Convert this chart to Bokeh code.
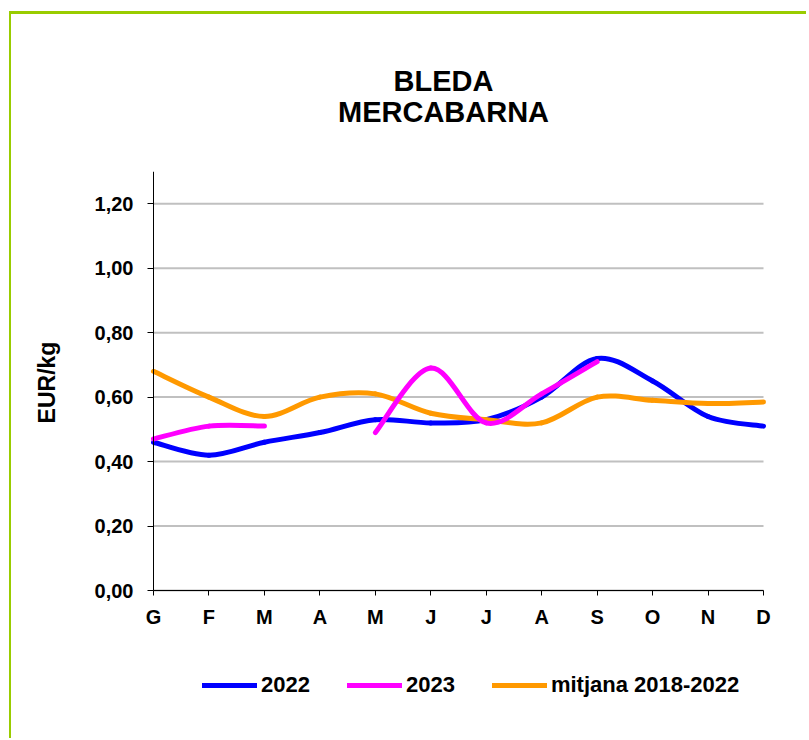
import math
from bokeh.plotting import figure
from bokeh.models import (ColumnDataSource, FixedTicker, Legend, LegendItem,
                          Title, Range1d, Label)
from bokeh.embed import file_html
from bokeh.resources import INLINE

# ---------------- data ----------------
months = ["G", "F", "M", "A", "M", "J", "J", "A", "S", "O", "N", "D"]
values_2022 = [0.46, 0.42, 0.46, 0.49, 0.53, 0.52, 0.53, 0.60, 0.72, 0.65, 0.54, 0.51]
values_2023 = [0.47, 0.51, 0.51, None, 0.49, 0.69, 0.52, 0.61, 0.71, None, None, None]
values_mitjana = [0.68, 0.60, 0.54, 0.60, 0.61, 0.55, 0.53, 0.52, 0.60, 0.59, 0.58, 0.585]
series_labels = ["2022", "2023", "mitjana 2018-2022"]
y_ticks = [0.0, 0.2, 0.4, 0.6, 0.8, 1.0, 1.2]
y_tick_labels = ["0,00", "0,20", "0,40", "0,60", "0,80", "1,00", "1,20"]
title_lines = ["BLEDA", "MERCABARNA"]
y_label = "EUR/kg"
y_max = 1.3

FONT = "Liberation Sans"
BLUE, MAGENTA, ORANGE = "#0000FF", "#FF00FF", "#FF9900"
GREEN = "#99CC00"
GRID = "#C0C0C0"
TITLE_SIZE = 29

# ---------------- geometry (px) ----------------
DATA_W, DATA_H = 610, 419          # axes box
PAD_L, PAD_R = 123, 38             # room inside the frame left/right of the axes box
PAD_B = 112                        # room inside the frame below the axes box (legend)
FRAME_W = PAD_L + DATA_W + PAD_R
FRAME_H = DATA_H + PAD_B
n_months = len(months)
ppx = DATA_W / (n_months - 1)      # px per month
ppy = DATA_H / y_max               # px per EUR
x_start, x_end = -PAD_L / ppx, (n_months - 1) + PAD_R / ppx
y_start = -PAD_B / ppy


def smooth_segments(ys, tension=1.0 / 6.0):
    """Bezier control points (Excel-like smoothed line) for each run of values."""
    xs = list(range(len(ys)))
    runs, cur = [], []
    for x, y in zip(xs, ys):
        if y is None:
            if cur:
                runs.append(cur)
                cur = []
        else:
            cur.append((x, y))
    if cur:
        runs.append(cur)
    d = dict(x0=[], y0=[], x1=[], y1=[], cx0=[], cy0=[], cx1=[], cy1=[])
    for run in runs:
        n = len(run)
        for i in range(n - 1):
            p0 = run[max(i - 1, 0)]
            p1 = run[i]
            p2 = run[i + 1]
            p3 = run[min(i + 2, n - 1)]
            d["x0"].append(p1[0]); d["y0"].append(p1[1])
            d["x1"].append(p2[0]); d["y1"].append(p2[1])
            d["cx0"].append(p1[0] + (p2[0] - p0[0]) * tension)
            d["cy0"].append(p1[1] + (p2[1] - p0[1]) * tension)
            d["cx1"].append(p2[0] - (p3[0] - p1[0]) * tension)
            d["cy1"].append(p2[1] - (p3[1] - p1[1]) * tension)
    return ColumnDataSource(d)


p = figure(frame_width=FRAME_W, frame_height=FRAME_H,
           min_border_left=19, min_border_right=5,
           min_border_top=157, min_border_bottom=36,
           x_range=Range1d(x_start, x_end), y_range=Range1d(y_start, y_max),
           output_backend="svg", toolbar_location=None)
p.styles = {"margin-left": "9px", "margin-top": "11px",
            "border-left": f"2px solid {GREEN}",
            "border-top": f"3px solid {GREEN}"}
p.outline_line_color = None
p.background_fill_color = "white"
p.border_fill_color = "white"
p.xgrid.visible = False
p.ygrid.visible = False

# horizontal grid lines, only across the axes box
p.segment(x0=[0] * len(y_ticks), x1=[n_months - 1] * len(y_ticks),
          y0=y_ticks, y1=y_ticks, line_color=GRID, line_width=2)

# axes
xa = p.xaxis[0]
xa.fixed_location = 0
xa.bounds = (0, n_months - 1)
xa.ticker = FixedTicker(ticks=list(range(n_months)))
xa.major_label_overrides = {i: m for i, m in enumerate(months)}
xa.major_label_text_font = FONT
xa.major_label_text_font_style = "bold"
xa.major_label_text_font_size = "20px"
xa.major_label_text_color = "black"
xa.major_label_standoff = 10
xa.major_tick_in = 0
xa.major_tick_out = 5
xa.minor_tick_line_color = None
xa.axis_line_color = "black"

ya = p.yaxis[0]
ya.fixed_location = 0
ya.bounds = (0, y_max)
ya.ticker = FixedTicker(ticks=y_ticks)
ya.major_label_overrides = dict(zip(y_ticks, y_tick_labels))
ya.major_label_text_font = FONT
ya.major_label_text_font_style = "bold"
ya.major_label_text_font_size = "20px"
ya.major_label_text_color = "black"
ya.major_label_standoff = 14
ya.major_tick_in = 0
ya.major_tick_out = 6
ya.minor_tick_line_color = None
ya.axis_line_color = "black"

# y axis title
p.add_layout(Label(x=-107 / ppx, y=(DATA_H / 2 - 1.5) / ppy, text=y_label,
                   angle=math.pi / 2, text_align="center", text_baseline="middle",
                   text_font=FONT, text_font_style="bold", text_font_size="23px",
                   text_color="black"))

# series
LW = 5
r22 = p.bezier("x0", "y0", "x1", "y1", "cx0", "cy0", "cx1", "cy1",
               source=smooth_segments(values_2022), line_color=BLUE,
               line_width=LW, line_cap="round")
rmit = p.bezier("x0", "y0", "x1", "y1", "cx0", "cy0", "cx1", "cy1",
                source=smooth_segments(values_mitjana), line_color=ORANGE,
                line_width=LW, line_cap="round")
r23 = p.bezier("x0", "y0", "x1", "y1", "cx0", "cy0", "cx1", "cy1",
               source=smooth_segments(values_2023), line_color=MAGENTA,
               line_width=LW, line_cap="round")

legend = Legend(items=[LegendItem(label=series_labels[0], renderers=[r22]),
                       LegendItem(label=series_labels[1], renderers=[r23]),
                       LegendItem(label=series_labels[2], renderers=[rmit])],
                orientation="horizontal", location=(PAD_L + 49, 4),
                glyph_width=55, glyph_height=20, label_standoff=4, spacing=37,
                padding=0, margin=0,
                label_text_font=FONT, label_text_font_style="bold",
                label_text_font_size="22px", label_text_color="black",
                border_line_color=None, background_fill_alpha=0)
p.add_layout(legend, "center")

# titles: a spacer next to the frame, then the two title lines
p.add_layout(Title(text=" ", text_font_size="1px", standoff=41), "above")
# approximate widths (Arial/Liberation Sans Bold advance widths, em)
em_w = {"B": 0.722, "L": 0.611, "E": 0.667, "D": 0.722, "A": 0.722,
        "M": 0.833, "R": 0.722, "C": 0.722, "N": 0.722}
title_center_offset = PAD_L + 290  # px from frame left
for txt, so in zip(reversed(title_lines), [0, -6]):
    w = sum(em_w[c] for c in txt) * TITLE_SIZE
    p.add_layout(Title(text=txt, align="left", offset=title_center_offset - w / 2,
                       standoff=so, text_font=FONT, text_font_style="bold",
                       text_font_size=f"{TITLE_SIZE}px", text_color="black"),
                 "above")

open("out.html", "w").write(file_html(p, INLINE))
